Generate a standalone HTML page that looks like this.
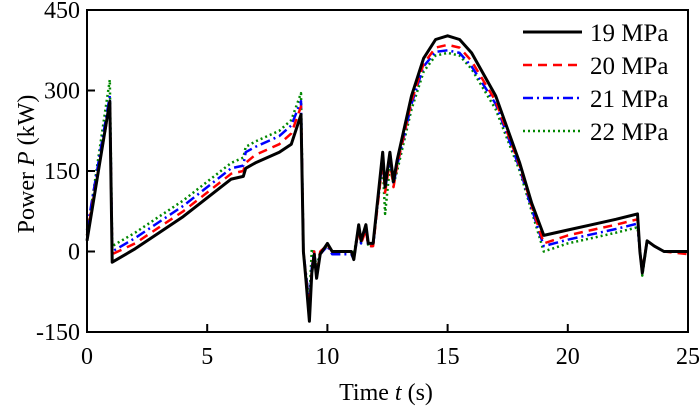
<!DOCTYPE html>
<html><head><meta charset="utf-8"><style>
html,body{margin:0;padding:0;background:#fff;}
svg{display:block;font-family:"Liberation Serif",serif;}
</style></head><body>
<svg id="chart" width="700" height="410">
<g id="plot"></g>
</svg>
<script>
const times=[0,0.95,1.05,2,3,4,5,6,6.5,6.6,7,8,8.5,8.9,9.0,9.1,9.25,9.35,9.45,9.55,9.7,10,10.2,11,11.1,11.3,11.4,11.6,11.7,11.9,12.1,12.3,12.4,12.6,12.75,12.9,13.5,14,14.5,15,15.5,16,17,18,18.5,19,20,21,22,22.9,23.0,23.1,23.3,23.6,24,25];
const p19=[20,280,-20,5,35,65,100,135,140,155,165,185,200,255,0,-50,-130,-40,-5,-50,-5,15,0,0,-15,50,20,50,15,15,100,185,120,185,130,170,290,360,395,402,395,370,290,165,90,30,40,50,60,70,0,-40,20,10,0,0];
const p20=[30,275,-5,15,45,75,110,145,150,165,180,200,220,270,0,-45,-110,-35,0,-45,0,12,0,0,-10,40,15,40,10,10,90,170,110,170,120,160,280,350,380,385,380,355,280,160,85,15,30,40,50,60,0,-35,20,10,0,-5];
const p21=[40,290,0,25,55,85,120,155,160,185,195,215,235,280,0,-40,-100,-30,0,-40,-5,10,-5,-5,-15,45,15,45,10,10,95,175,115,175,125,160,275,345,372,375,370,345,275,155,80,10,22,32,42,52,0,-40,20,10,0,0];
const p22=[30,320,10,35,65,95,130,165,175,195,205,225,245,295,0,-40,-90,5,-5,-30,0,10,0,0,-5,45,15,45,10,10,95,160,70,160,125,150,265,335,365,370,365,340,265,150,75,0,15,25,35,45,0,-45,20,10,0,0];
const xTicks=[0,5,10,15,20,25];
const yTicks=[-150,0,150,300,450];
const seriesNames=["19 MPa","20 MPa","21 MPa","22 MPa"];

const X0=87,X1=688,Y0=332,Y1=10;
const xs=t=>X0+(t-0)/(25-0)*(X1-X0);
const ys=v=>Y0-(v+150)/600*(Y0-Y1);
const NS="http://www.w3.org/2000/svg";
const svg=document.getElementById('chart');
function mk(tag,attrs,parent){const e=document.createElementNS(NS,tag);for(const k in attrs)e.setAttribute(k,attrs[k]);(parent||svg).appendChild(e);return e;}

const styles=[
 {c:"#000",w:3,d:""},
 {c:"#f00",w:2.5,d:"9,6"},
 {c:"#00f",w:2.5,d:"10,4,2,4"},
 {c:"#080",w:2.5,d:"2,3"}];
const data=[p19,p20,p21,p22];
const plot=document.getElementById('plot');
for(let s=3;s>=0;s--){
 const pts=times.map((t,i)=>xs(t).toFixed(1)+","+ys(data[s][i]).toFixed(1)).join(" ");
 const pl=mk('polyline',{points:pts,fill:"none",stroke:styles[s].c,"stroke-width":styles[s].w,"stroke-dasharray":styles[s].d,"stroke-linejoin":"round"},plot);
 
 
}
const fr=mk('rect',{x:X0,y:Y1,width:X1-X0,height:Y0-Y1,fill:"none",stroke:"#000","stroke-width":2});


xTicks.forEach(t=>{
 const x=xs(t);
 const tk=mk('line',{x1:x,x2:x,y1:Y0,y2:Y0-8,stroke:"#000","stroke-width":2});
 
 
 const tx=mk('text',{x:x,y:364,"text-anchor":"middle","font-size":24});
 tx.textContent=t;
 
 
});
yTicks.forEach(v=>{
 const y=ys(v);
 const tk=mk('line',{x1:X0,x2:X0+8,y1:y,y2:y,stroke:"#000","stroke-width":2});
 
 
 const tx=mk('text',{x:80,y:y+8,"text-anchor":"end","font-size":24});
 tx.textContent=v;
 
 
});
seriesNames.forEach((n,i)=>{
 const y=32+i*33;
 const ln=mk('line',{x1:523,x2:582,y1:y,y2:y,stroke:styles[i].c,"stroke-width":styles[i].w,"stroke-dasharray":styles[i].d});
 
 
 const tx=mk('text',{x:590,y:y+9,"font-size":25});
 tx.textContent=n;
 
 
});
</script>
<svg style="position:absolute;left:0;top:0" width="700" height="410">
<text x="386" y="400" text-anchor="middle" font-size="24" font-family="Liberation Serif, serif">Time <tspan font-style="italic">t</tspan> (s)</text>
<text transform="translate(34,164) rotate(-90)" text-anchor="middle" font-size="24" font-family="Liberation Serif, serif">Power <tspan font-style="italic">P</tspan> (kW)</text>
</svg>
</body></html>
